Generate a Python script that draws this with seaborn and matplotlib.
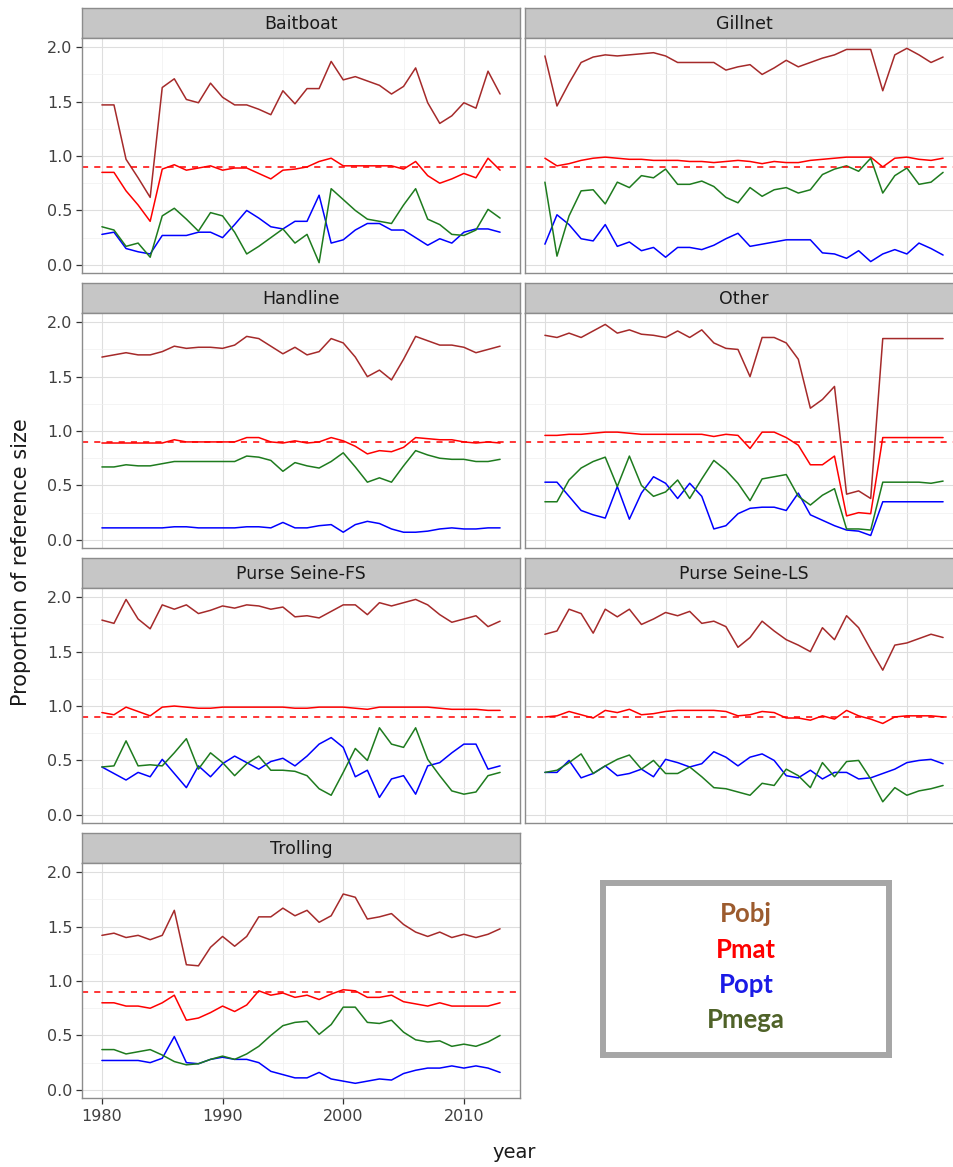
import matplotlib
matplotlib.use("Agg")
import matplotlib.pyplot as plt
from matplotlib.ticker import MultipleLocator
import pandas as pd
import seaborn as sns

years = list(range(1980, 2014))
series_names = ["Pobj", "Pmat", "Popt", "Pmega"]
line_colors = {"Pobj": "#A52A2A", "Pmat": "#FF0000", "Popt": "#0000FF", "Pmega": "#1E7B1E"}
legend_colors = ["#9C5B2E", "#FF0000", "#1A1AE6", "#4F6228"]

# Baitboat
baitboat_pobj = [1.47, 1.47, 0.97, 0.80, 0.62, 1.63, 1.71, 1.52, 1.49, 1.67,
                 1.54, 1.47, 1.47, 1.43, 1.38, 1.60, 1.48, 1.62, 1.62, 1.87,
                 1.70, 1.73, 1.69, 1.65, 1.57, 1.64, 1.81, 1.49, 1.30, 1.37,
                 1.49, 1.44, 1.78, 1.57]
baitboat_pmat = [0.85, 0.85, 0.68, 0.55, 0.40, 0.88, 0.92, 0.87, 0.89, 0.91,
                 0.87, 0.89, 0.89, 0.84, 0.79, 0.87, 0.88, 0.90, 0.95, 0.98,
                 0.91, 0.91, 0.91, 0.91, 0.91, 0.88, 0.95, 0.82, 0.75, 0.79,
                 0.84, 0.80, 0.98, 0.87]
baitboat_popt = [0.28, 0.30, 0.15, 0.12, 0.10, 0.27, 0.27, 0.27, 0.30, 0.30,
                 0.25, 0.37, 0.50, 0.43, 0.35, 0.33, 0.40, 0.40, 0.64, 0.20,
                 0.23, 0.32, 0.38, 0.38, 0.32, 0.32, 0.25, 0.18, 0.24, 0.20,
                 0.30, 0.33, 0.33, 0.30]
baitboat_pmega = [0.35, 0.32, 0.17, 0.20, 0.07, 0.45, 0.52, 0.42, 0.31, 0.48,
                  0.45, 0.30, 0.10, 0.17, 0.25, 0.33, 0.20, 0.28, 0.02, 0.70,
                  0.60, 0.50, 0.42, 0.40, 0.38, 0.55, 0.70, 0.42, 0.37, 0.28,
                  0.27, 0.32, 0.51, 0.43]

# Gillnet
gillnet_pobj = [1.92, 1.46, 1.67, 1.86, 1.91, 1.93, 1.92, 1.93, 1.94, 1.95,
                1.92, 1.86, 1.86, 1.86, 1.86, 1.79, 1.82, 1.84, 1.75, 1.81,
                1.88, 1.82, 1.86, 1.90, 1.93, 1.98, 1.98, 1.98, 1.60, 1.93,
                1.99, 1.93, 1.86, 1.91]
gillnet_pmat = [0.98, 0.91, 0.93, 0.96, 0.98, 0.99, 0.98, 0.97, 0.97, 0.96,
                0.96, 0.96, 0.95, 0.95, 0.94, 0.95, 0.96, 0.95, 0.93, 0.95,
                0.94, 0.94, 0.96, 0.97, 0.98, 0.99, 0.99, 0.99, 0.90, 0.98,
                0.99, 0.97, 0.96, 0.98]
gillnet_popt = [0.19, 0.46, 0.37, 0.24, 0.22, 0.37, 0.17, 0.21, 0.13, 0.16,
                0.07, 0.16, 0.16, 0.14, 0.18, 0.24, 0.29, 0.17, 0.19, 0.21,
                0.23, 0.23, 0.23, 0.11, 0.10, 0.06, 0.13, 0.03, 0.10, 0.14,
                0.10, 0.20, 0.15, 0.09]
gillnet_pmega = [0.76, 0.08, 0.45, 0.68, 0.69, 0.56, 0.76, 0.71, 0.82, 0.80,
                 0.88, 0.74, 0.74, 0.77, 0.72, 0.62, 0.57, 0.71, 0.63, 0.69,
                 0.71, 0.66, 0.69, 0.83, 0.88, 0.91, 0.86, 0.98, 0.66, 0.82,
                 0.89, 0.74, 0.76, 0.85]

# Handline
handline_pobj = [1.68, 1.70, 1.72, 1.70, 1.70, 1.73, 1.78, 1.76, 1.77, 1.77,
                 1.76, 1.79, 1.87, 1.85, 1.78, 1.71, 1.77, 1.70, 1.73, 1.85,
                 1.81, 1.68, 1.50, 1.56, 1.47, 1.66, 1.87, 1.83, 1.79, 1.79,
                 1.77, 1.72, 1.75, 1.78]
handline_pmat = [0.89, 0.89, 0.89, 0.89, 0.89, 0.89, 0.92, 0.90, 0.90, 0.90,
                 0.90, 0.90, 0.94, 0.94, 0.90, 0.89, 0.91, 0.89, 0.90, 0.94,
                 0.91, 0.86, 0.79, 0.82, 0.81, 0.85, 0.94, 0.93, 0.92, 0.92,
                 0.90, 0.89, 0.90, 0.89]
handline_popt = [0.11, 0.11, 0.11, 0.11, 0.11, 0.11, 0.12, 0.12, 0.11, 0.11,
                 0.11, 0.11, 0.12, 0.12, 0.11, 0.16, 0.11, 0.11, 0.13, 0.14,
                 0.07, 0.14, 0.17, 0.15, 0.10, 0.07, 0.07, 0.08, 0.10, 0.11,
                 0.10, 0.10, 0.11, 0.11]
handline_pmega = [0.67, 0.67, 0.69, 0.68, 0.68, 0.70, 0.72, 0.72, 0.72, 0.72,
                  0.72, 0.72, 0.77, 0.76, 0.73, 0.63, 0.71, 0.68, 0.66, 0.72,
                  0.80, 0.67, 0.53, 0.57, 0.53, 0.68, 0.82, 0.78, 0.75, 0.74,
                  0.74, 0.72, 0.72, 0.74]

# Other
other_pobj = [1.88, 1.86, 1.90, 1.86, 1.92, 1.98, 1.90, 1.93, 1.89, 1.88,
              1.86, 1.92, 1.86, 1.93, 1.81, 1.76, 1.75, 1.50, 1.86, 1.86,
              1.81, 1.66, 1.21, 1.29, 1.41, 0.42, 0.45, 0.38, 1.85, 1.85,
              1.85, 1.85, 1.85, 1.85]
other_pmat = [0.96, 0.96, 0.97, 0.97, 0.98, 0.99, 0.99, 0.98, 0.97, 0.97,
              0.97, 0.97, 0.97, 0.97, 0.95, 0.97, 0.96, 0.84, 0.99, 0.99,
              0.94, 0.87, 0.69, 0.69, 0.77, 0.22, 0.25, 0.24, 0.94, 0.94,
              0.94, 0.94, 0.94, 0.94]
other_popt = [0.53, 0.53, 0.40, 0.27, 0.23, 0.20, 0.49, 0.19, 0.43, 0.58,
              0.52, 0.38, 0.52, 0.40, 0.10, 0.13, 0.24, 0.29, 0.30, 0.30,
              0.27, 0.43, 0.23, 0.18, 0.13, 0.09, 0.08, 0.04, 0.35, 0.35,
              0.35, 0.35, 0.35, 0.35]
other_pmega = [0.35, 0.35, 0.55, 0.66, 0.72, 0.76, 0.49, 0.77, 0.50, 0.40,
               0.44, 0.55, 0.38, 0.56, 0.73, 0.64, 0.52, 0.36, 0.56, 0.58,
               0.60, 0.40, 0.32, 0.41, 0.47, 0.10, 0.10, 0.09, 0.53, 0.53,
               0.53, 0.53, 0.52, 0.54]

# Purse Seine-FS
psfs_pobj = [1.79, 1.76, 1.98, 1.80, 1.71, 1.93, 1.89, 1.93, 1.85, 1.88,
             1.92, 1.90, 1.93, 1.92, 1.89, 1.91, 1.82, 1.83, 1.81, 1.87,
             1.93, 1.93, 1.84, 1.95, 1.92, 1.95, 1.98, 1.93, 1.84, 1.77,
             1.80, 1.83, 1.73, 1.78]
psfs_pmat = [0.94, 0.92, 0.99, 0.95, 0.91, 0.99, 1.00, 0.99, 0.98, 0.98,
             0.99, 0.99, 0.99, 0.99, 0.99, 0.99, 0.98, 0.98, 0.99, 0.99,
             0.99, 0.98, 0.97, 0.99, 0.99, 0.99, 0.99, 0.99, 0.98, 0.97,
             0.97, 0.97, 0.96, 0.96]
psfs_popt = [0.44, 0.38, 0.32, 0.39, 0.35, 0.51, 0.38, 0.25, 0.45, 0.35,
             0.47, 0.54, 0.48, 0.42, 0.49, 0.52, 0.45, 0.54, 0.65, 0.71,
             0.62, 0.35, 0.41, 0.16, 0.33, 0.36, 0.19, 0.45, 0.48, 0.57,
             0.65, 0.65, 0.42, 0.45]
psfs_pmega = [0.44, 0.45, 0.68, 0.45, 0.46, 0.45, 0.57, 0.70, 0.42, 0.57,
              0.48, 0.36, 0.47, 0.54, 0.41, 0.41, 0.40, 0.36, 0.24, 0.18,
              0.39, 0.61, 0.50, 0.80, 0.65, 0.62, 0.80, 0.51, 0.36, 0.22,
              0.19, 0.21, 0.36, 0.39]

# Purse Seine-LS
psls_pobj = [1.66, 1.69, 1.89, 1.85, 1.67, 1.89, 1.82, 1.89, 1.75, 1.80,
             1.86, 1.83, 1.87, 1.76, 1.78, 1.73, 1.54, 1.63, 1.78, 1.69,
             1.61, 1.56, 1.50, 1.72, 1.61, 1.83, 1.72, 1.52, 1.33, 1.56,
             1.58, 1.62, 1.66, 1.63]
psls_pmat = [0.90, 0.91, 0.95, 0.92, 0.89, 0.96, 0.94, 0.97, 0.92, 0.93,
             0.95, 0.96, 0.96, 0.96, 0.96, 0.95, 0.91, 0.92, 0.95, 0.94,
             0.89, 0.89, 0.87, 0.91, 0.88, 0.96, 0.91, 0.88, 0.84, 0.90,
             0.91, 0.91, 0.91, 0.90]
psls_popt = [0.39, 0.39, 0.50, 0.34, 0.38, 0.45, 0.36, 0.38, 0.42, 0.35,
             0.51, 0.48, 0.44, 0.47, 0.58, 0.53, 0.45, 0.53, 0.56, 0.50,
             0.36, 0.34, 0.41, 0.33, 0.39, 0.39, 0.33, 0.34, 0.38, 0.42,
             0.48, 0.50, 0.51, 0.47]
psls_pmega = [0.39, 0.41, 0.48, 0.56, 0.38, 0.45, 0.51, 0.55, 0.42, 0.50,
              0.38, 0.38, 0.44, 0.35, 0.25, 0.24, 0.21, 0.18, 0.29, 0.27,
              0.42, 0.36, 0.25, 0.48, 0.35, 0.49, 0.50, 0.33, 0.12, 0.25,
              0.18, 0.22, 0.24, 0.27]

# Trolling
trolling_pobj = [1.42, 1.44, 1.40, 1.42, 1.38, 1.42, 1.65, 1.15, 1.14, 1.31,
                 1.41, 1.32, 1.41, 1.59, 1.59, 1.67, 1.60, 1.65, 1.54, 1.60,
                 1.80, 1.77, 1.57, 1.59, 1.62, 1.52, 1.45, 1.41, 1.45, 1.40,
                 1.43, 1.40, 1.43, 1.48]
trolling_pmat = [0.80, 0.80, 0.77, 0.77, 0.75, 0.80, 0.87, 0.64, 0.66, 0.71,
                 0.77, 0.72, 0.78, 0.91, 0.87, 0.89, 0.85, 0.87, 0.83, 0.88,
                 0.92, 0.91, 0.85, 0.85, 0.87, 0.81, 0.79, 0.77, 0.80, 0.77,
                 0.77, 0.77, 0.77, 0.80]
trolling_popt = [0.27, 0.27, 0.27, 0.27, 0.25, 0.29, 0.49, 0.25, 0.24, 0.28,
                 0.30, 0.28, 0.28, 0.25, 0.17, 0.14, 0.11, 0.11, 0.16, 0.10,
                 0.08, 0.06, 0.08, 0.10, 0.09, 0.15, 0.18, 0.20, 0.20, 0.22,
                 0.20, 0.22, 0.20, 0.16]
trolling_pmega = [0.37, 0.37, 0.33, 0.35, 0.37, 0.32, 0.26, 0.23, 0.24, 0.28,
                  0.31, 0.28, 0.33, 0.40, 0.50, 0.59, 0.62, 0.63, 0.51, 0.60,
                  0.76, 0.76, 0.62, 0.61, 0.64, 0.53, 0.46, 0.44, 0.45, 0.40,
                  0.42, 0.40, 0.44, 0.50]

gears = ["Baitboat", "Gillnet", "Handline", "Other",
         "Purse Seine-FS", "Purse Seine-LS", "Trolling"]
gear_data = {
    "Baitboat": [baitboat_pobj, baitboat_pmat, baitboat_popt, baitboat_pmega],
    "Gillnet": [gillnet_pobj, gillnet_pmat, gillnet_popt, gillnet_pmega],
    "Handline": [handline_pobj, handline_pmat, handline_popt, handline_pmega],
    "Other": [other_pobj, other_pmat, other_popt, other_pmega],
    "Purse Seine-FS": [psfs_pobj, psfs_pmat, psfs_popt, psfs_pmega],
    "Purse Seine-LS": [psls_pobj, psls_pmat, psls_popt, psls_pmega],
    "Trolling": [trolling_pobj, trolling_pmat, trolling_popt, trolling_pmega],
}
reference_level = 0.9

rows = []
for gear in gears:
    for name, vals in zip(series_names, gear_data[gear]):
        for yr, v in zip(years, vals):
            rows.append({"gear": gear, "series": name, "year": yr, "value": v})
df = pd.DataFrame(rows)

sns.set_theme(style="white")
plt.rcParams["font.family"] = ["DejaVu Sans"]

W, H = 954, 1167
fig = plt.figure(figsize=(W / 100, H / 100), dpi=100)
fig.patch.set_facecolor("white")


def px_axes(left, top, width, height):
    return fig.add_axes([left / W, 1 - (top + height) / H, width / W, height / H])


col_left = [82, 525]
panel_w = 438
strip_h = 30
panel_h = 235

for i, gear in enumerate(gears):
    r, c = divmod(i, 2)
    strip_top = 8 + 275 * r
    left = col_left[c]

    ax_s = px_axes(left, strip_top, panel_w, strip_h)
    ax_s.set_facecolor("#C6C6C6")
    ax_s.set_xticks([])
    ax_s.set_yticks([])
    for sp in ax_s.spines.values():
        sp.set_color("#8C8C8C")
        sp.set_linewidth(1.0)
    ax_s.text(0.5, 0.47, gear, ha="center", va="center", fontsize=12.5,
              color="#1A1A1A", transform=ax_s.transAxes)

    ax = px_axes(left, strip_top + strip_h, panel_w, panel_h)
    ax.set_facecolor("white")
    sub = df[df["gear"] == gear]
    sns.lineplot(data=sub, x="year", y="value", hue="series",
                 hue_order=series_names, palette=line_colors,
                 estimator=None, linewidth=1.1, legend=False, ax=ax)
    ax.axhline(reference_level, color="#FF0000", linestyle=(0, (4, 4)), linewidth=1.1)

    ax.set_xlim(1978.35, 2014.65)
    ax.set_ylim(-0.075, 2.085)
    ax.set_xticks([1980, 1990, 2000, 2010])
    ax.set_yticks([0.0, 0.5, 1.0, 1.5, 2.0])
    ax.set_yticklabels(["0.0", "0.5", "1.0", "1.5", "2.0"])
    ax.xaxis.set_minor_locator(MultipleLocator(5))
    ax.yaxis.set_minor_locator(MultipleLocator(0.25))
    ax.grid(which="major", color="#DEDEDE", linewidth=0.8)
    ax.grid(which="minor", color="#F0F0F0", linewidth=0.5)
    ax.set_axisbelow(True)
    ax.set_xlabel("")
    ax.set_ylabel("")
    for sp in ax.spines.values():
        sp.set_color("#8C8C8C")
        sp.set_linewidth(1.0)

    ax.tick_params(axis="both", which="minor", length=0)
    if c == 0:
        ax.tick_params(axis="y", which="major", left=True, length=4, width=0.9,
                       color="#333333", labelsize=11.5, labelcolor="#404040", pad=3)
    else:
        ax.tick_params(axis="y", which="major", left=False, labelleft=False)
    if gear == "Trolling":
        ax.tick_params(axis="x", which="major", bottom=True, length=4, width=0.9,
                       color="#333333", labelsize=11.5, labelcolor="#404040", pad=4)
    else:
        ax.tick_params(axis="x", which="major", bottom=False, labelbottom=False)

fig.text(21 / W, 1 - 562 / H, "Proportion of reference size", rotation=90,
         ha="center", va="center", fontsize=15, color="#1A1A1A")
fig.text(514 / W, 1 - 1152 / H, "year", ha="center", va="center",
         fontsize=14, color="#1A1A1A")

# text legend box
ax_l = px_axes(603, 883, 286, 172)
ax_l.set_facecolor("white")
ax_l.set_xticks([])
ax_l.set_yticks([])
for sp in ax_l.spines.values():
    sp.set_color("#A6A6A6")
    sp.set_linewidth(4.3)
for k, (name, col) in enumerate(zip(series_names, legend_colors)):
    ytxt = 1 - (31 + 35.5 * k) / 172
    ax_l.text(0.5, ytxt, name, ha="center", va="center", fontsize=18.5,
              fontweight="bold", color=col, family=["Lato", "DejaVu Sans"],
              transform=ax_l.transAxes)

fig.savefig("out.png", dpi=100)
